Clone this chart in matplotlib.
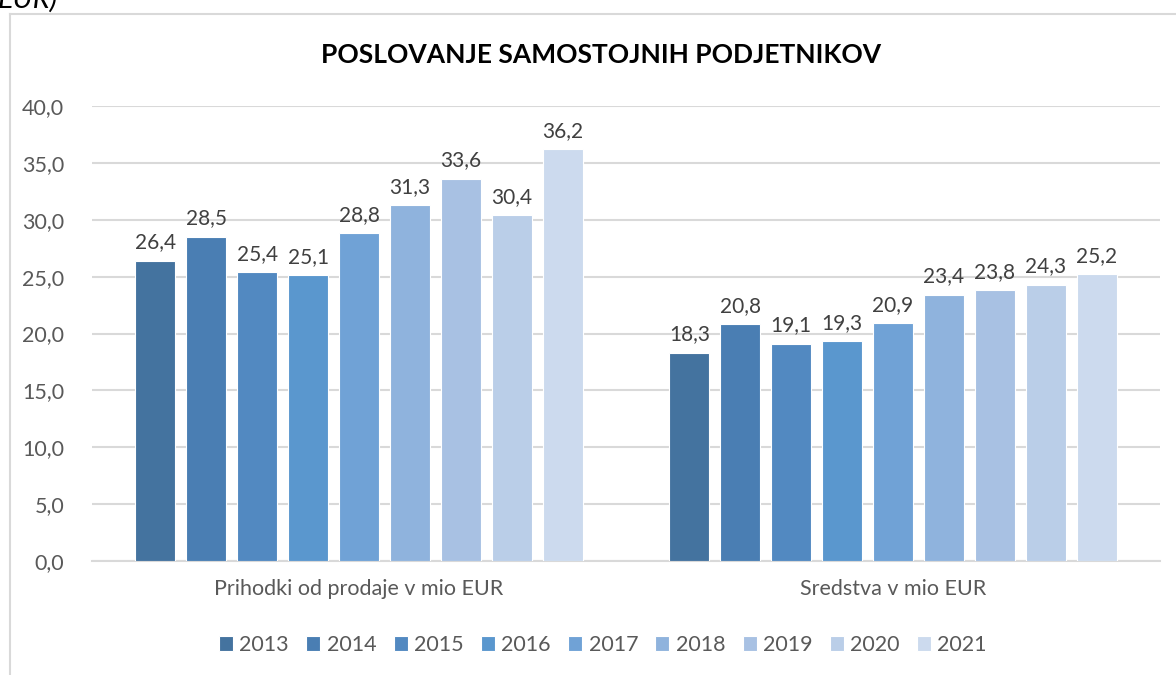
import numpy as np
import matplotlib.pyplot as plt
from matplotlib.lines import Line2D

plt.rcParams['font.family'] = ['Lato', 'DejaVu Sans']

categories = ["Prihodki od prodaje v mio EUR", "Sredstva v mio EUR"]
years = ["2013", "2014", "2015", "2016", "2017", "2018", "2019", "2020", "2021"]
prihodki = [26.4, 28.5, 25.4, 25.1, 28.8, 31.3, 33.6, 30.4, 36.2]
sredstva = [18.3, 20.8, 19.1, 19.3, 20.9, 23.4, 23.8, 24.3, 25.2]
colors = ["#44739F", "#4A7EB3", "#5289C1", "#5A97CE", "#70A2D6",
          "#8FB3DD", "#A8C1E3", "#BACEE8", "#CCDAEE"]

fig = plt.figure(figsize=(11.76, 6.75), dpi=100)
W, H = 1176, 675

# chart frame (partially cropped like in the source)
fig.add_artist(Line2D([10 / W, 10 / W], [0, 1 - 14 / H], color="#D9D9D9", lw=1.5))
fig.add_artist(Line2D([10 / W, 1], [1 - 14 / H, 1 - 14 / H], color="#D9D9D9", lw=1.5))
fig.text(-2 / W, 1 - 8 / H, "EUR)", fontsize=21, style="italic", color="black",
         ha="left", va="baseline")

ax = fig.add_axes([92 / W, 1 - 561 / H, (1160 - 92) / W, (561 - 106) / H])

pitch = 0.0953
width = 0.075
x = np.arange(len(categories))
for i, (yr, c) in enumerate(zip(years, colors)):
    off = (i - (len(years) - 1) / 2) * pitch
    vals = [prihodki[i], sredstva[i]]
    bars = ax.bar(x + off, vals, width, color=c, edgecolor="white", linewidth=0.8,
                  label=yr, zorder=3)
    for b, v in zip(bars, vals):
        ax.annotate(f"{v:.1f}".replace(".", ","), (b.get_x() + b.get_width() / 2, v),
                    xytext=(0, 6), textcoords="offset points", ha="center", va="bottom",
                    fontsize=15, color="#404040")

ax.set_xlim(-0.5, 1.5)
ax.set_ylim(0, 40)
ax.set_yticks(np.arange(0, 40.1, 5))
ax.set_yticklabels([f"{t:.1f}".replace(".", ",") for t in np.arange(0, 40.1, 5)])
ax.set_xticks(x)
ax.set_xticklabels(categories)
ax.tick_params(axis="y", length=0, pad=20, labelsize=15.5, labelcolor="#595959")
ax.tick_params(axis="x", length=0, pad=13, labelsize=15.5, labelcolor="#595959")
ax.grid(axis="y", color="#D9D9D9", lw=1.5, zorder=0)
for s in ["top", "right", "left"]:
    ax.spines[s].set_visible(False)
ax.spines["bottom"].set_color("#D9D9D9")
ax.spines["bottom"].set_linewidth(1.5)

fig.text(601 / W, 1 - 55 / H, "POSLOVANJE SAMOSTOJNIH PODJETNIKOV", fontsize=19,
         fontweight="bold", ha="center", va="center", color="black")

fig.legend(loc="center", bbox_to_anchor=(603 / W, 1 - 645 / H), ncol=9, frameon=False,
           fontsize=15.5, handlelength=0.65, handleheight=0.65, handletextpad=0.3,
           columnspacing=0.8, labelcolor="#595959")

fig.savefig("out.png", dpi=100)
